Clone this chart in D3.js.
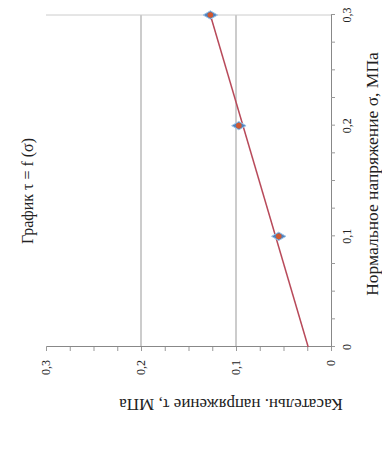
<!DOCTYPE html>
<html>
<head>
<meta charset="utf-8">
<script src="https://cdn.jsdelivr.net/npm/d3@7"></script>
<style>
  body { margin: 0; background: #fff; }
  text { font-family: "Liberation Serif", "Times New Roman", serif; fill: #222; }
</style>
</head>
<body>
<div id="chart"></div>
<script>
// data
var sigma = [0.1, 0.2, 0.3];          // нормальное напряжение, МПа
var tau = [0.055, 0.097, 0.127];      // касательное напряжение, МПа
var trendSigma = [0, 0.3];
var trendTau = [0.024, 0.127];
var sigmaTicks = [0, 0.1, 0.2, 0.3];
var tauTicks = [0, 0.1, 0.2, 0.3];
var tickNames = ["0", "0,1", "0,2", "0,3"];

var W = 382, H = 461;

var svg = d3.select("#chart")
    .append("svg")
    .attr("width", W)
    .attr("height", H);

// the whole picture is turned a quarter left, so draw it flat and rotate
var g = svg.append("g")
    .attr("transform", "translate(0," + H + ") rotate(-90)");

var x = d3.scaleLinear().domain([0, 0.3]).range([114, 446]);
var y = d3.scaleLinear().domain([0, 0.3]).range([331, 46]);

// grid
g.selectAll(".grid")
    .data([0.1, 0.2])
    .enter().append("line")
    .attr("x1", x(0)).attr("x2", x(0.3))
    .attr("y1", function(d) { return y(d); })
    .attr("y2", function(d) { return y(d); })
    .attr("stroke", "#999")
    .attr("stroke-width", 1);

g.append("line")
    .attr("x1", x(0.3)).attr("x2", x(0.3))
    .attr("y1", y(0.3)).attr("y2", y(0))
    .attr("stroke", "#ccc")
    .attr("stroke-width", 1);

// axes with minor ticks every 0.025
var xAxis = d3.axisBottom(x)
    .tickValues(d3.range(0, 0.3001, 0.025))
    .tickSize(4)
    .tickFormat("");
var yAxis = d3.axisLeft(y)
    .tickValues(d3.range(0, 0.3001, 0.025))
    .tickSize(4)
    .tickFormat("");

var gx = g.append("g").attr("transform", "translate(0," + y(0) + ")").call(xAxis);
var gy = g.append("g").attr("transform", "translate(" + x(0) + ",0)").call(yAxis);
[gx, gy].forEach(function(a) {
  a.select(".domain").attr("stroke", "#888");
  a.selectAll(".tick line").attr("stroke", "#999");
});

// tick labels
g.selectAll(".xl")
    .data(sigmaTicks)
    .enter().append("text")
    .attr("x", function(d) { return x(d); })
    .attr("y", 351)
    .attr("text-anchor", "middle")
    .attr("font-size", 12)
    .text(function(d, i) { return tickNames[i]; });

g.selectAll(".yl")
    .data(tauTicks)
    .enter().append("text")
    .attr("x", 101)
    .attr("y", function(d) { return y(d) + 4; })
    .attr("text-anchor", "end")
    .attr("font-size", 12)
    .text(function(d, i) { return tickNames[i]; });

// trend line
var line = d3.line()
    .x(function(d) { return x(d[0]); })
    .y(function(d) { return y(d[1]); });

g.append("path")
    .datum(d3.zip(trendSigma, trendTau))
    .attr("d", line)
    .attr("fill", "none")
    .attr("stroke", "#b84a5a")
    .attr("stroke-width", 1.5);

// points
var pts = d3.zip(sigma, tau);
g.selectAll(".pt")
    .data(pts)
    .enter().append("path")
    .attr("d", d3.symbol().type(d3.symbolDiamond).size(60))
    .attr("transform", function(d) { return "translate(" + x(d[0]) + "," + y(d[1]) + ")"; })
    .attr("fill", "#4f81bd")
    .attr("stroke", "#9cc3e6")
    .attr("stroke-width", 1);

g.selectAll(".pt2")
    .data(pts)
    .enter().append("circle")
    .attr("cx", function(d) { return x(d[0]); })
    .attr("cy", function(d) { return y(d[1]); })
    .attr("r", 2.8)
    .attr("fill", "#d2582f");

// titles
g.append("text")
    .attr("x", 270)
    .attr("y", 33)
    .attr("text-anchor", "middle")
    .attr("font-size", 16)
    .text("График τ = f (σ)");

g.append("text")
    .attr("x", 287)
    .attr("y", 378)
    .attr("text-anchor", "middle")
    .attr("font-size", 17.5)
    .text("Нормальное напряжение σ, МПа");

g.append("text")
    .attr("transform", "translate(62,231) rotate(-90)")
    .attr("text-anchor", "middle")
    .attr("font-size", 17)
    .text("Касательн. напряжение τ, МПа");
</script>
</body>
</html>
